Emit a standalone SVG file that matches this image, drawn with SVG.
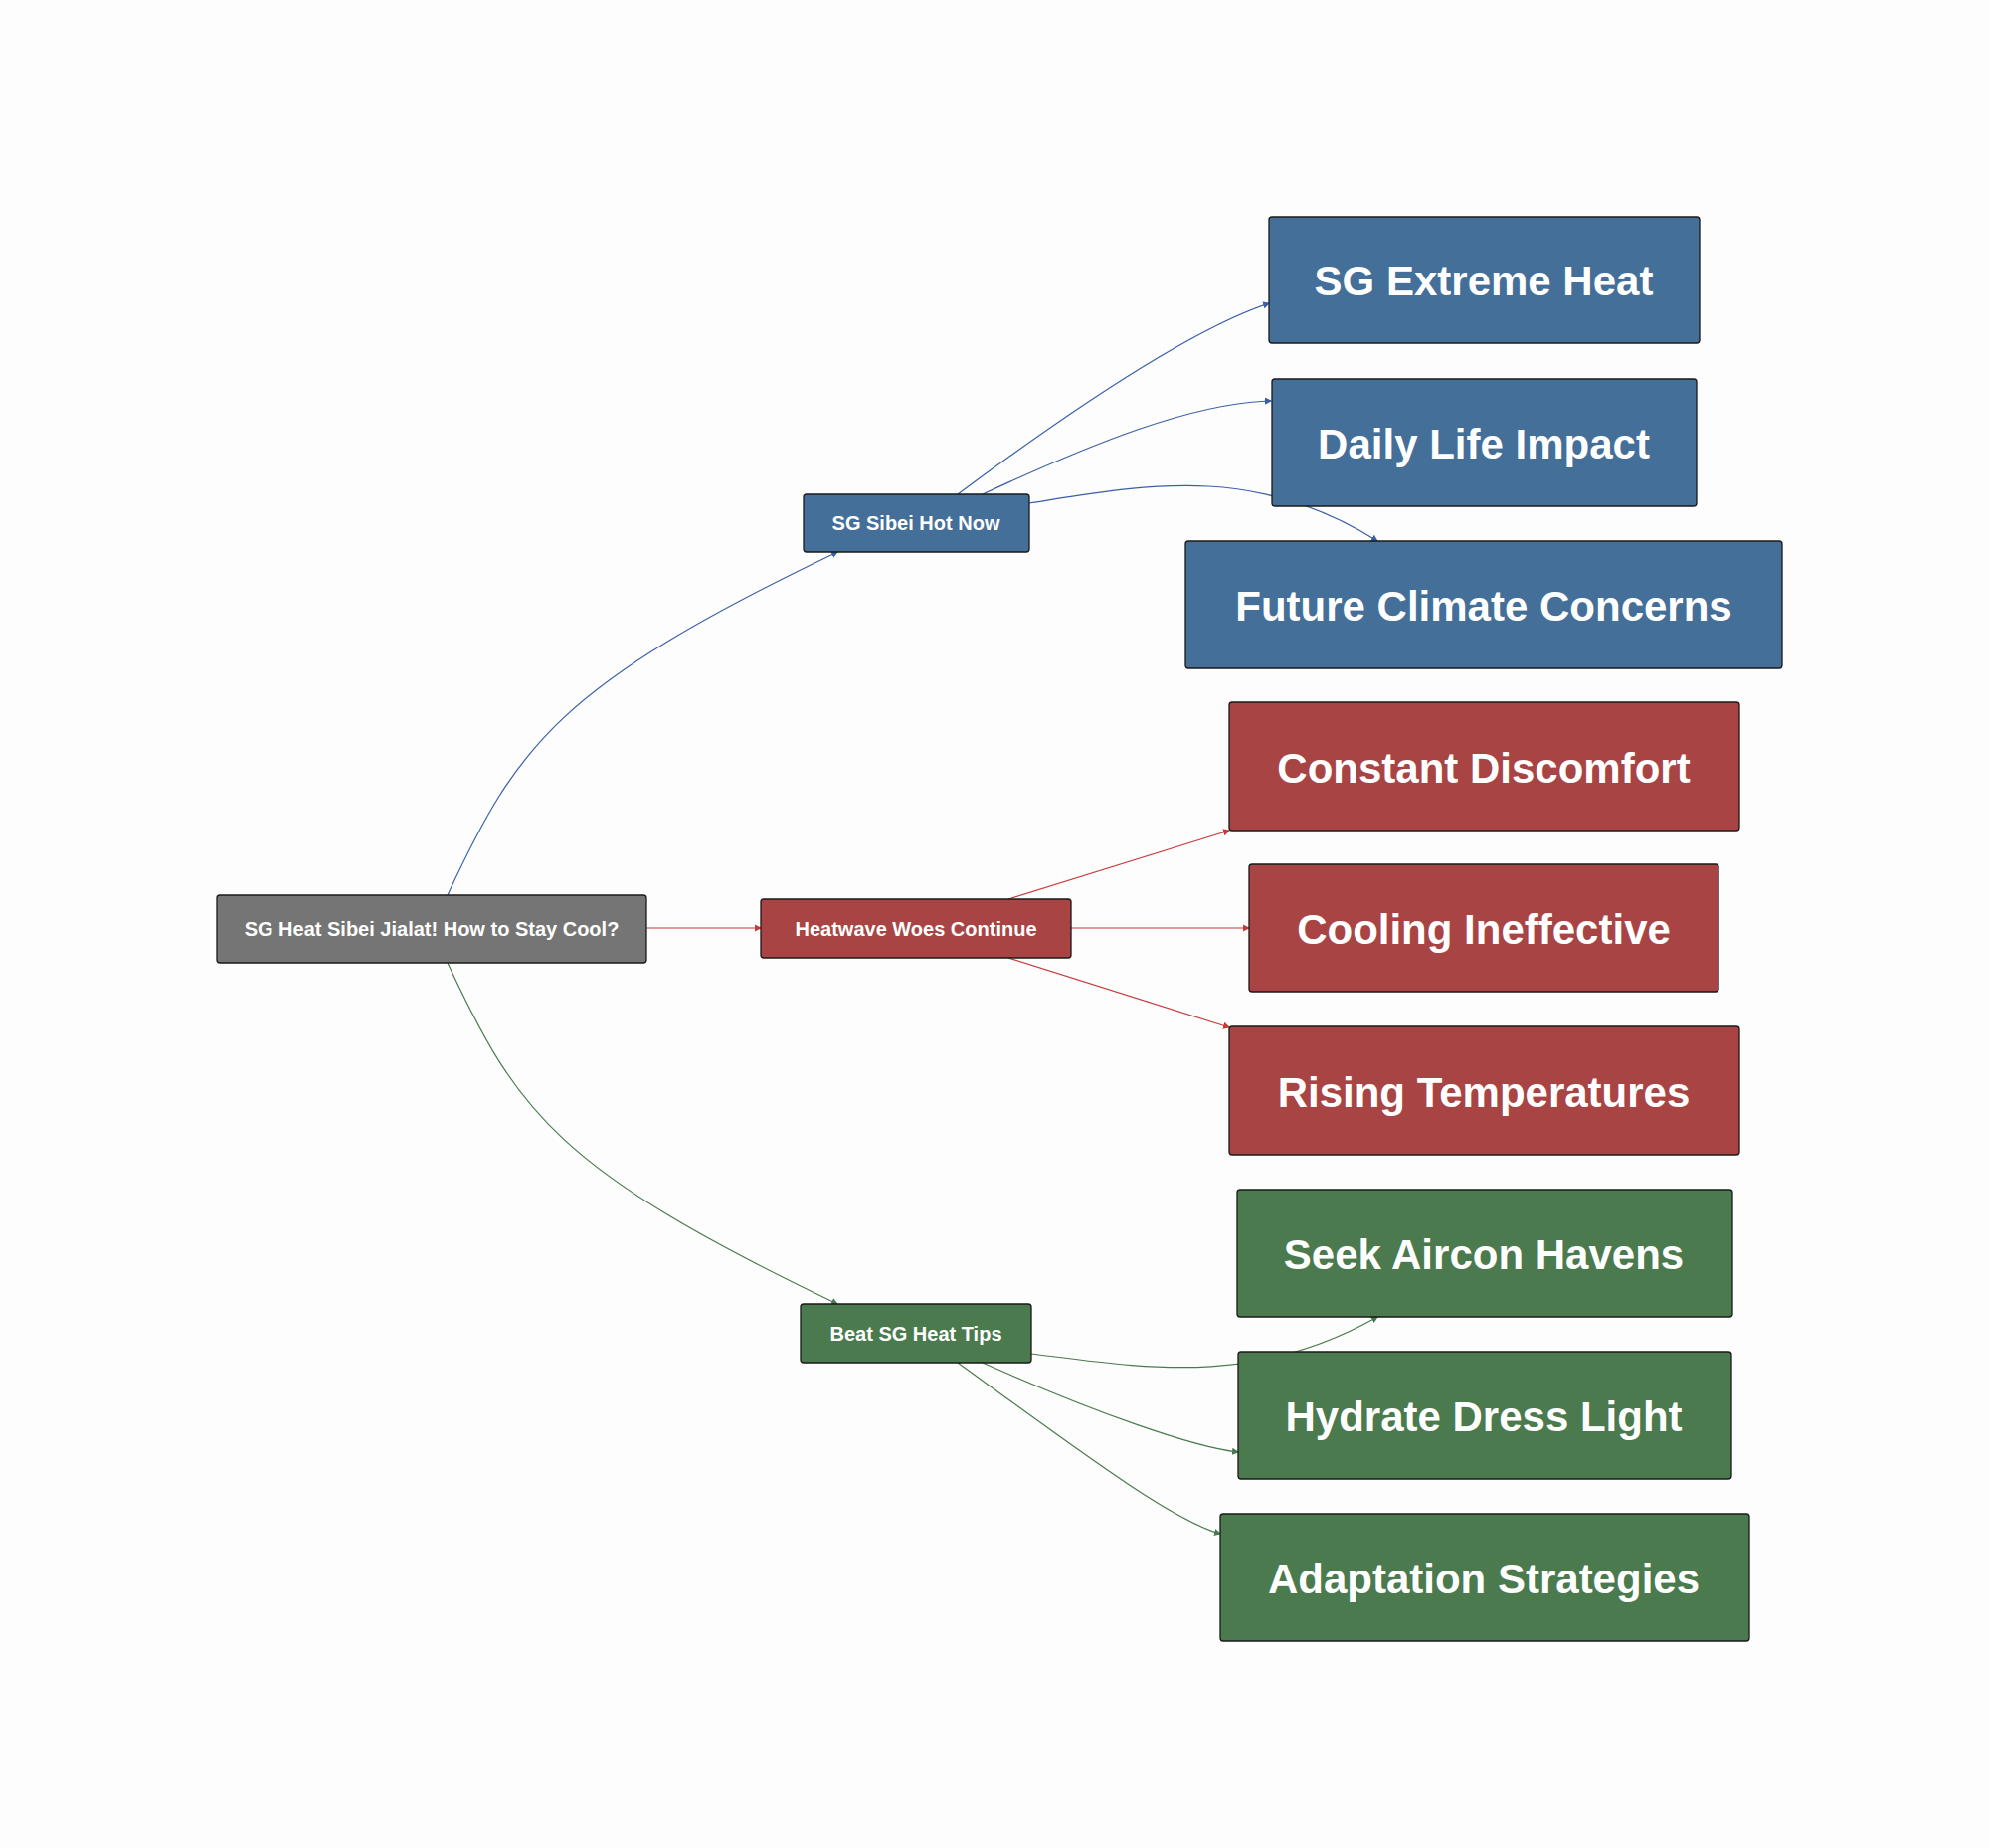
<svg xmlns="http://www.w3.org/2000/svg" width="2000" height="1858" viewBox="0 0 2000 1858">
<defs>
<style>
.n rect{stroke:#1a1a1a;stroke-width:1.3}
.n text{font-family:"Liberation Sans",Arial,sans-serif;font-weight:bold;fill:#fff;text-anchor:middle;dominant-baseline:central}
.s text{font-size:20px}
.b text{font-size:42px}
.blue rect{fill:#446f99}.red rect{fill:#a84444}.green rect{fill:#4a7a4e}.grey rect{fill:#757575}
.e path{fill:none;stroke-width:1.2}
.eb{stroke:#3a5fa8}.er{stroke:#c83a3a}.eg{stroke:#4a7a4e}
</style>
<marker id="ab" markerWidth="6" markerHeight="6" refX="5" refY="3" orient="auto"><path d="M0,0L6,3L0,6z" fill="#3a5fa8"/></marker>
<marker id="ar" markerWidth="6" markerHeight="6" refX="5" refY="3" orient="auto"><path d="M0,0L6,3L0,6z" fill="#c83a3a"/></marker>
<marker id="ag" markerWidth="6" markerHeight="6" refX="5" refY="3" orient="auto"><path d="M0,0L6,3L0,6z" fill="#4a7a4e"/></marker>
</defs>
<rect width="2000" height="1858" fill="#fdfdfd"/>
<g id="connectors" class="e">
<path class="eb" d="M450,900 C520,750 560,690 842,555" marker-end="url(#ab)"/>
<path class="er" d="M650,933 L765,933" marker-end="url(#ar)"/>
<path class="eg" d="M450,968 C520,1118 560,1176 842,1311" marker-end="url(#ag)"/>
<path class="eb" d="M963,497 C1080,410 1200,330 1276,305" marker-end="url(#ab)"/>
<path class="eb" d="M988,497 C1100,445 1200,405 1278,403" marker-end="url(#ab)"/>
<path class="eb" d="M1035,506 C1150,488 1260,465 1385,544" marker-end="url(#ab)"/>
<path class="er" d="M1014,904 L1236,835" marker-end="url(#ar)"/>
<path class="er" d="M1077,933 L1256,933" marker-end="url(#ar)"/>
<path class="er" d="M1014,963 L1236,1033" marker-end="url(#ar)"/>
<path class="eg" d="M1037,1361 C1150,1375 1260,1395 1385,1324" marker-end="url(#ag)"/>
<path class="eg" d="M988,1370 C1100,1420 1200,1455 1245,1460" marker-end="url(#ag)"/>
<path class="eg" d="M963,1370 C1080,1455 1180,1530 1227,1542" marker-end="url(#ag)"/>
</g>
<g id="root" class="n s grey"><rect x="218" y="900" width="432" height="68" rx="3"/><text x="434" y="934">SG Heat Sibei Jialat! How to Stay Cool?</text></g>
<g id="sibei" class="n s blue"><rect x="808" y="497" width="227" height="58" rx="3"/><text x="921" y="526">SG Sibei Hot Now</text></g>
<g id="heatwave" class="n s red"><rect x="765" y="904" width="312" height="59" rx="3"/><text x="921" y="934">Heatwave Woes Continue</text></g>
<g id="beat" class="n s green"><rect x="805" y="1311" width="232" height="59" rx="3"/><text x="921" y="1341">Beat SG Heat Tips</text></g>
<g id="extreme" class="n b blue"><rect x="1276" y="218" width="433" height="127" rx="3"/><text x="1492" y="282">SG Extreme Heat</text></g>
<g id="daily" class="n b blue"><rect x="1279" y="381" width="427" height="128" rx="3"/><text x="1492" y="446">Daily Life Impact</text></g>
<g id="future" class="n b blue"><rect x="1192" y="544" width="600" height="128" rx="3"/><text x="1492" y="609">Future Climate Concerns</text></g>
<g id="constant" class="n b red"><rect x="1236" y="706" width="513" height="129" rx="3"/><text x="1492" y="772">Constant Discomfort</text></g>
<g id="cooling" class="n b red"><rect x="1256" y="869" width="472" height="128" rx="3"/><text x="1492" y="934">Cooling Ineffective</text></g>
<g id="rising" class="n b red"><rect x="1236" y="1032" width="513" height="129" rx="3"/><text x="1492" y="1098">Rising Temperatures</text></g>
<g id="seek" class="n b green"><rect x="1244" y="1196" width="498" height="128" rx="3"/><text x="1492" y="1261">Seek Aircon Havens</text></g>
<g id="hydrate" class="n b green"><rect x="1245" y="1359" width="496" height="128" rx="3"/><text x="1492" y="1424">Hydrate Dress Light</text></g>
<g id="adapt" class="n b green"><rect x="1227" y="1522" width="532" height="128" rx="3"/><text x="1492" y="1587">Adaptation Strategies</text></g>
</svg>
